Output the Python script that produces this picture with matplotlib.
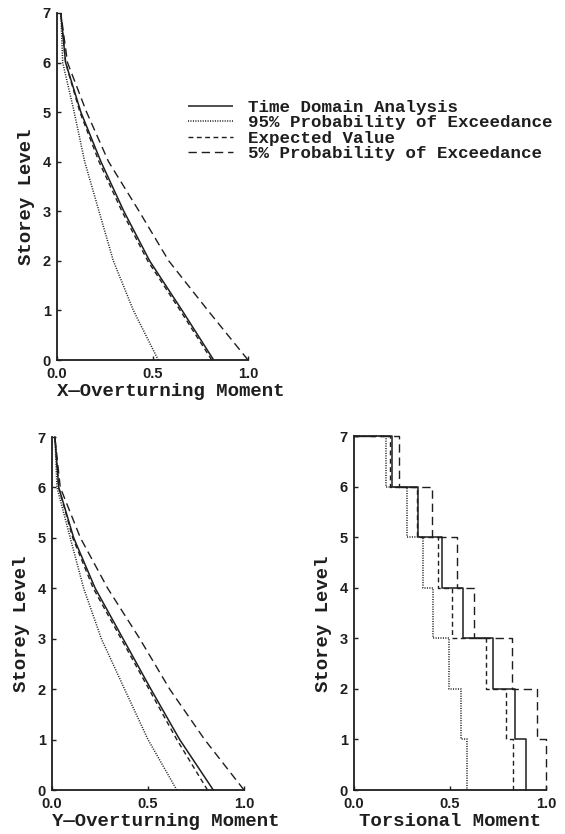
import numpy as np
import matplotlib
matplotlib.use("Agg")
import matplotlib.pyplot as plt
from matplotlib.font_manager import FontProperties

# ---------------- data ----------------
levels = [0, 1, 2, 3, 4, 5, 6, 7]
series_names = ["Time Domain Analysis", "95% Probability of Exceedance",
                "Expected Value", "5% Probability of Exceedance"]

# X-overturning moment at storey levels 0..7
x_time = [0.82, 0.655, 0.485, 0.35, 0.23, 0.125, 0.045, 0.02]
x_p95 = [0.53, 0.40, 0.295, 0.22, 0.145, 0.09, 0.03, 0.02]
x_exp = [0.81, 0.645, 0.475, 0.34, 0.22, 0.12, 0.045, 0.02]
x_p05 = [1.00, 0.79, 0.585, 0.43, 0.27, 0.155, 0.055, 0.02]

# Y-overturning moment at storey levels 0..7
y_time = [0.84, 0.665, 0.515, 0.37, 0.225, 0.113, 0.035, 0.015]
y_p95 = [0.65, 0.50, 0.378, 0.257, 0.165, 0.095, 0.026, 0.015]
y_exp = [0.81, 0.65, 0.505, 0.36, 0.215, 0.108, 0.035, 0.015]
y_p05 = [1.00, 0.795, 0.613, 0.457, 0.29, 0.148, 0.043, 0.015]

# Torsional moment per storey (storey 7-6 down to 1-0)
storey_top = [7, 6, 5, 4, 3, 2, 1, 0]
t_time = [0.197, 0.334, 0.456, 0.569, 0.724, 0.84, 0.897]
t_p95 = [0.165, 0.276, 0.357, 0.413, 0.497, 0.557, 0.587]
t_exp = [0.19, 0.33, 0.437, 0.51, 0.688, 0.792, 0.83]
t_p05 = [0.236, 0.408, 0.535, 0.624, 0.824, 0.955, 1.0]

x_ticks = [0.0, 0.5, 1.0]
x_ticklabels = ["0.0", "0.5", "1.0"]
y_ticks = [0, 1, 2, 3, 4, 5, 6, 7]

# ---------------- style ----------------
INK = "#1e1e1e"
styles = [
    dict(linestyle="-", lw=1.1),
    dict(linestyle=(0, (0.7, 0.9)), lw=1.1),
    dict(linestyle=(0, (3.5, 2.5)), lw=1.0),
    dict(linestyle=(0, (6.0, 3.5)), lw=1.0),
]
mono_leg = FontProperties(family="Liberation Mono", weight="bold", size=12.6)
mono_lab = FontProperties(family="Liberation Mono", weight="bold", size=13.7)
tickfont = dict(family="Liberation Sans", weight="bold", size=10.5)

W, H = 565, 834
fig = plt.figure(figsize=(W / 100, H / 100), dpi=100)
fig.patch.set_facecolor("white")


def px_axes(left, right, bottom, top):
    return fig.add_axes([left / W, (H - bottom) / H, (right - left) / W, (bottom - top) / H])


def style_axes(ax, xlabel, xlabel_left):
    ax.set_xlim(0, 1)
    ax.set_ylim(0, 7)
    for s in ["top", "right"]:
        ax.spines[s].set_visible(False)
    for s in ["left", "bottom"]:
        ax.spines[s].set_linewidth(1.3)
        ax.spines[s].set_color(INK)
    ax.set_xticks(x_ticks)
    ax.set_xticklabels(x_ticklabels, fontdict=tickfont)
    ax.set_yticks(y_ticks)
    ax.set_yticklabels([str(v) for v in y_ticks], fontdict=tickfont)
    ax.tick_params(direction="in", length=3, width=1, color=INK, labelcolor=INK)
    ax.tick_params(axis="x", pad=5.0)
    ax.tick_params(axis="y", pad=4.5)
    ax.set_ylabel("Storey Level", fontproperties=mono_lab, color=INK)
    ax.yaxis.set_label_coords(-0.115, 0.47)
    if xlabel_left:
        ax.set_xlabel(xlabel, fontproperties=mono_lab, color=INK, loc="left", labelpad=1.5)
    else:
        ax.set_xlabel(xlabel, fontproperties=mono_lab, color=INK, labelpad=1.5)


# Top-left: X-overturning
ax1 = px_axes(57, 248, 360, 13)
handles = []
for vals, name, st in zip([x_time, x_p95, x_exp, x_p05], series_names, styles):
    (h,) = ax1.plot(vals, levels, color=INK, label=name, clip_on=False,
                    solid_capstyle="butt", dash_capstyle="butt", **st)
    handles.append(h)
style_axes(ax1, "X\u2014Overturning Moment", True)

# Bottom-left: Y-overturning
ax2 = px_axes(52, 244, 790, 437)
for vals, st in zip([y_time, y_p95, y_exp, y_p05], styles):
    ax2.plot(vals, levels, color=INK, clip_on=False, **st)
style_axes(ax2, "Y\u2014Overturning Moment", True)

# Bottom-right: Torsional (step profile)
ax3 = px_axes(354, 546, 790, 436)
for vals, st in zip([t_time, t_p95, t_exp, t_p05], styles):
    ax3.plot([0.0] + vals, storey_top, drawstyle="steps-post", color=INK,
             clip_on=False, **st)
style_axes(ax3, "Torsional Moment", False)

# Legend
fig.legend(handles=handles, labels=series_names, loc="upper left",
           bbox_to_anchor=(188 / W, 1 - 100 / H), frameon=False, prop=mono_leg,
           handlelength=2.55, handletextpad=0.9, labelspacing=0.0,
           borderpad=0, borderaxespad=0, labelcolor=INK)

fig.savefig("out.png", dpi=100, facecolor="white")
